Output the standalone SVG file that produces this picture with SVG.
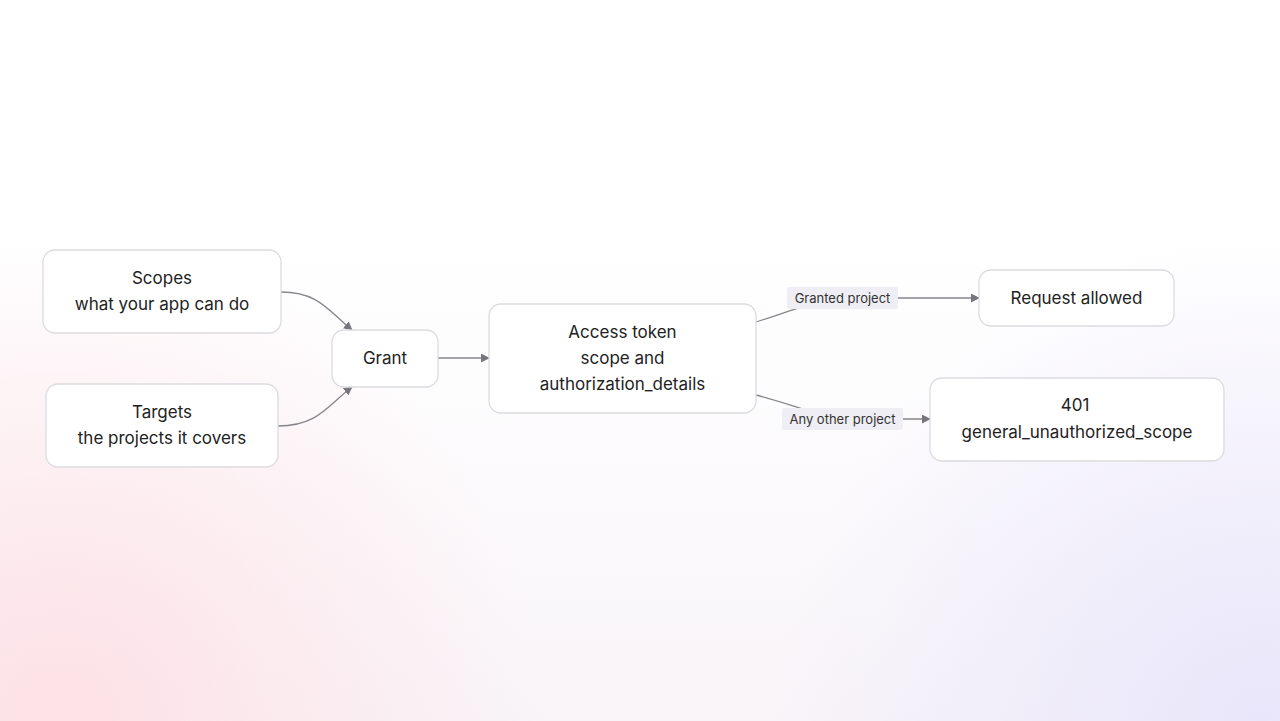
<svg xmlns="http://www.w3.org/2000/svg" width="1280" height="721" viewBox="0 0 1280 721">
<defs>
<radialGradient id="gp" cx="60" cy="721" r="480" gradientUnits="userSpaceOnUse"><stop offset="0" stop-color="#fde1e6"/><stop offset="1" stop-color="#fde1e6" stop-opacity="0"/></radialGradient>
<radialGradient id="gl" cx="1260" cy="721" r="480" gradientUnits="userSpaceOnUse"><stop offset="0" stop-color="#e9e6fb"/><stop offset="1" stop-color="#e9e6fb" stop-opacity="0"/></radialGradient>
<linearGradient id="gv" x1="0" y1="0" x2="0" y2="1"><stop offset="0.3" stop-color="#fbf8fb" stop-opacity="0"/><stop offset="1" stop-color="#f8f4f8"/></linearGradient>
<marker id="ah" viewBox="0 0 10 10" refX="9" refY="5" markerWidth="9" markerHeight="9" markerUnits="userSpaceOnUse" orient="auto"><path d="M0,0 L10,5 L0,10 z" fill="#77767c"/></marker>
<style>
.n rect{fill:#fff;stroke:#dcdbe0;stroke-width:1.3}
.t{font-family:Inter,"Noto Sans",sans-serif;font-size:17px;fill:#222;text-anchor:middle}
.c path{fill:none;stroke:#86858b;stroke-width:1.3}
.lb{fill:#efeef4}
.lt{font-family:Inter,"Noto Sans",sans-serif;font-size:13px;fill:#333;text-anchor:middle}
</style>
</defs>
<rect width="1280" height="721" fill="#fff"/>
<rect width="1280" height="721" fill="url(#gv)"/>
<rect width="1280" height="721" fill="url(#gp)"/>
<rect width="1280" height="721" fill="url(#gl)"/>
<g class="c">
<path d="M281,292 C318,292 328,310 352,330" marker-end="url(#ah)"/>
<path d="M278,426 C318,426 328,405 352,387" marker-end="url(#ah)"/>
<path d="M438,358 L489,358" marker-end="url(#ah)"/>
<path d="M756,322 C800,308 820,298 860,298 L979,298" marker-end="url(#ah)"/>
<path d="M756,395 C800,406 820,419 860,419 L930,419" marker-end="url(#ah)"/>
<rect class="lb" x="787" y="287" width="111" height="22" rx="2"/>
<text class="lt" x="842.5" y="302.5">Granted project</text>
<rect class="lb" x="782" y="408" width="121" height="22" rx="2"/>
<text class="lt" x="842.5" y="423.5">Any other project</text>
</g>
<g id="scopes" class="n"><rect x="43" y="250" width="238" height="83" rx="12"/><text class="t" x="162" y="284">Scopes</text><text class="t" x="162" y="310">what your app can do</text></g>
<g id="targets" class="n"><rect x="46" y="384" width="232" height="83" rx="12"/><text class="t" x="162" y="418">Targets</text><text class="t" x="162" y="444">the projects it covers</text></g>
<g id="grant" class="n"><rect x="332" y="330" width="106" height="57" rx="12"/><text class="t" x="385" y="364">Grant</text></g>
<g id="token" class="n"><rect x="489" y="304" width="267" height="109" rx="12"/><text class="t" x="622.5" y="338">Access token</text><text class="t" x="622.5" y="364">scope and</text><text class="t" x="622.5" y="390">authorization_details</text></g>
<g id="allowed" class="n"><rect x="979" y="270" width="195" height="56" rx="12"/><text class="t" x="1076.5" y="304">Request allowed</text></g>
<g id="denied" class="n"><rect x="930" y="378" width="294" height="83" rx="12"/><text class="t" x="1075" y="411">401</text><text class="t" x="1077" y="438">general_unauthorized_scope</text></g>
</svg>
